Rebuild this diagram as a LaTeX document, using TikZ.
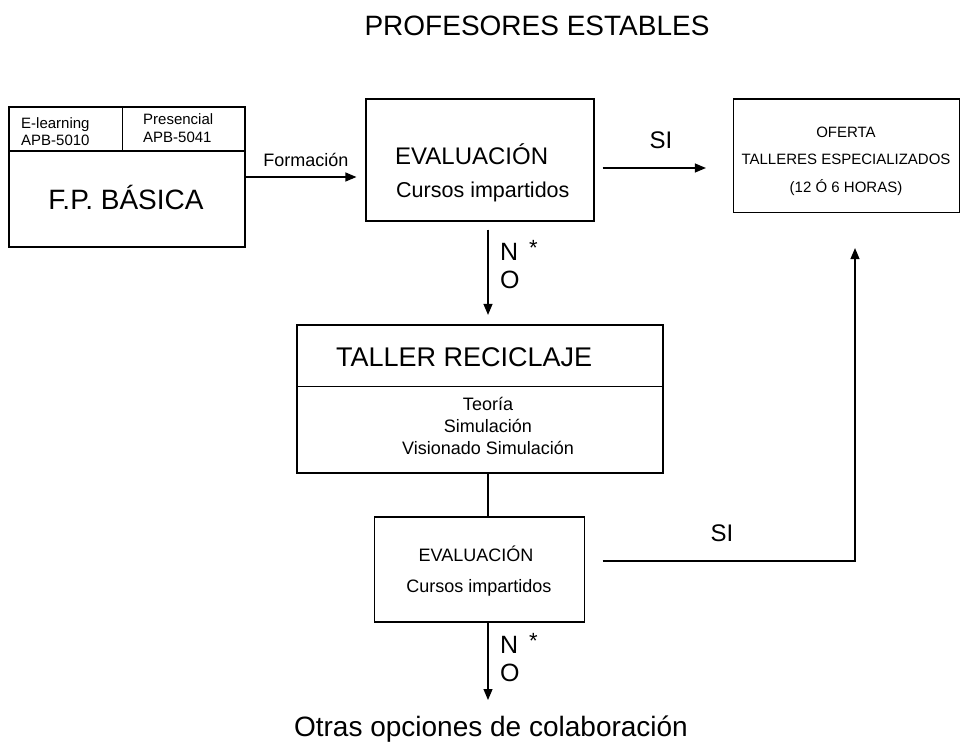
\documentclass[tikz,border=0pt]{standalone}
\usepackage{fontspec}
\setmainfont{Liberation Sans}
\usetikzlibrary{calc, arrows.meta}
\newcommand\fsz[2]{\fontsize{#1}{#2}\selectfont}

\begin{document}
\begin{tikzpicture}[x=1pt,y=-1pt,
        box/.style={draw, line width=1.2pt, inner sep=0pt},
        txt/.style={inner sep=0pt, anchor=base},
        link/.style={line width=1.2pt, -{Triangle[length=11pt,width=9pt]}},
        plain/.style={line width=1.2pt}]
            \useasboundingbox (0,0) rectangle (961,744);
            \node[txt, font=\fsz{28}{32}] (title) at (537,35) {PROFESORES ESTABLES};
            % boxes
            \node[box, minimum width=236pt, minimum height=140pt] (fp) at (127,177) {};
            \node[box, minimum width=228pt, minimum height=122pt] (eval1) at (480,160) {};
            \node[box, minimum width=226pt, minimum height=113.5pt] (oferta) at (846.5,155.75) {};
            \node[box, minimum width=366pt, minimum height=148pt] (taller) at (480,399) {};
            \node[box, minimum width=210pt, minimum height=105pt] (eval2) at (479.5,569.5) {};
            % F.P. basica
            \coordinate (fpsplit) at (122.5,151);
            \draw[plain] (fp.west |- fpsplit) -- (fp.east |- fpsplit);
            \draw[plain] (fpsplit |- fp.north) -- (fpsplit);
            \node[txt, anchor=base west, align=left, font=\fsz{15}{17.5}] (elearn) at (21,145.5) {E-learning\\APB-5010};
            \node[txt, anchor=base west, align=left, font=\fsz{15}{17.5}] (presen) at (143,142) {Presencial\\APB-5041};
            \node[txt, font=\fsz{28}{32}] (fpname) at (126,209) {F.P. BÁSICA};
            \node[txt, font=\fsz{18}{20}] (form) at (306,166) {Formación};
            \draw[link, shorten >=9pt] (fp.east) -- (fp.east -| eval1.west);
            % primera evaluacion
            \node[txt, anchor=base west, font=\fsz{24}{28}] (evtitle1) at (395,164) {EVALUACIÓN};
            \node[txt, anchor=base west, font=\fsz{21.5}{24}] (evcourse1) at (396,197) {Cursos impartidos};
            \coordinate (si1) at (0,168);
            \node[txt, font=\fsz{24}{28}] (yes1) at (661,148) {SI};
            \draw[link, shorten <=8pt, shorten >=27pt] (eval1.east |- si1) -- (oferta.west |- si1);
            \foreach \t [count=\i] in {OFERTA, TALLERES ESPECIALIZADOS, {(12 Ó 6 HORAS)}}{
                \node[txt, font=\fsz{15}{17}] (offer\i) at (846,{110.25+27.25*\i}) {\t};
            }
            % NO
            \coordinate (axis) at (488,0);
            \draw[link, shorten <=8pt, shorten >=9.5pt] (axis |- eval1.south) -- (axis |- taller.north);
            \foreach \y [count=\i] in {260,653}{
                \node[txt, anchor=base west, font=\fsz{25}{28}] (no\i) at (500,\y) {N};
                \node[txt, anchor=base west, font=\fsz{25}{28}] (oh\i) at (500,{\y+28}) {O};
                \node[txt, anchor=base west, font=\fsz{22}{24}] (star\i) at (529,{\y-5}) {*};
            }
            % taller reciclaje
            \coordinate (tdiv) at (0,386.5);
            \draw[plain] (taller.west |- tdiv) -- (taller.east |- tdiv);
            \node[txt, anchor=base west, font=\fsz{27}{30}] (tname) at (336,366) {TALLER RECICLAJE};
            \foreach \t [count=\i] in {Teoría, Simulación, Visionado Simulación}{
                \node[txt, font=\fsz{18}{20}] (item\i) at (488,{388.5+22*\i}) {\t};
            }
            \draw[plain] (axis |- taller.south) -- (axis |- eval2.north);
            % segunda evaluacion
            \node[txt, font=\fsz{18}{20}] (evtitle2) at (476,561) {EVALUACIÓN};
            \node[txt, font=\fsz{18}{20}] (evcourse2) at (479,592) {Cursos impartidos};
            \coordinate (si2) at (0,561);
            \coordinate (rise) at (855,0);
            \node[txt, font=\fsz{24}{28}] (yes2) at (722,541) {SI};
            \draw[link, shorten <=17.5pt, shorten >=35pt] (eval2.east |- si2) -| (rise |- oferta.south);
            \coordinate (exit) at (488,700);
            \draw[link] (axis |- eval2.south) -- (exit);
            \node[txt, font=\fsz{28}{32}] (otras) at (491,736) {Otras opciones de colaboración};
        \end{tikzpicture}
\end{document}
